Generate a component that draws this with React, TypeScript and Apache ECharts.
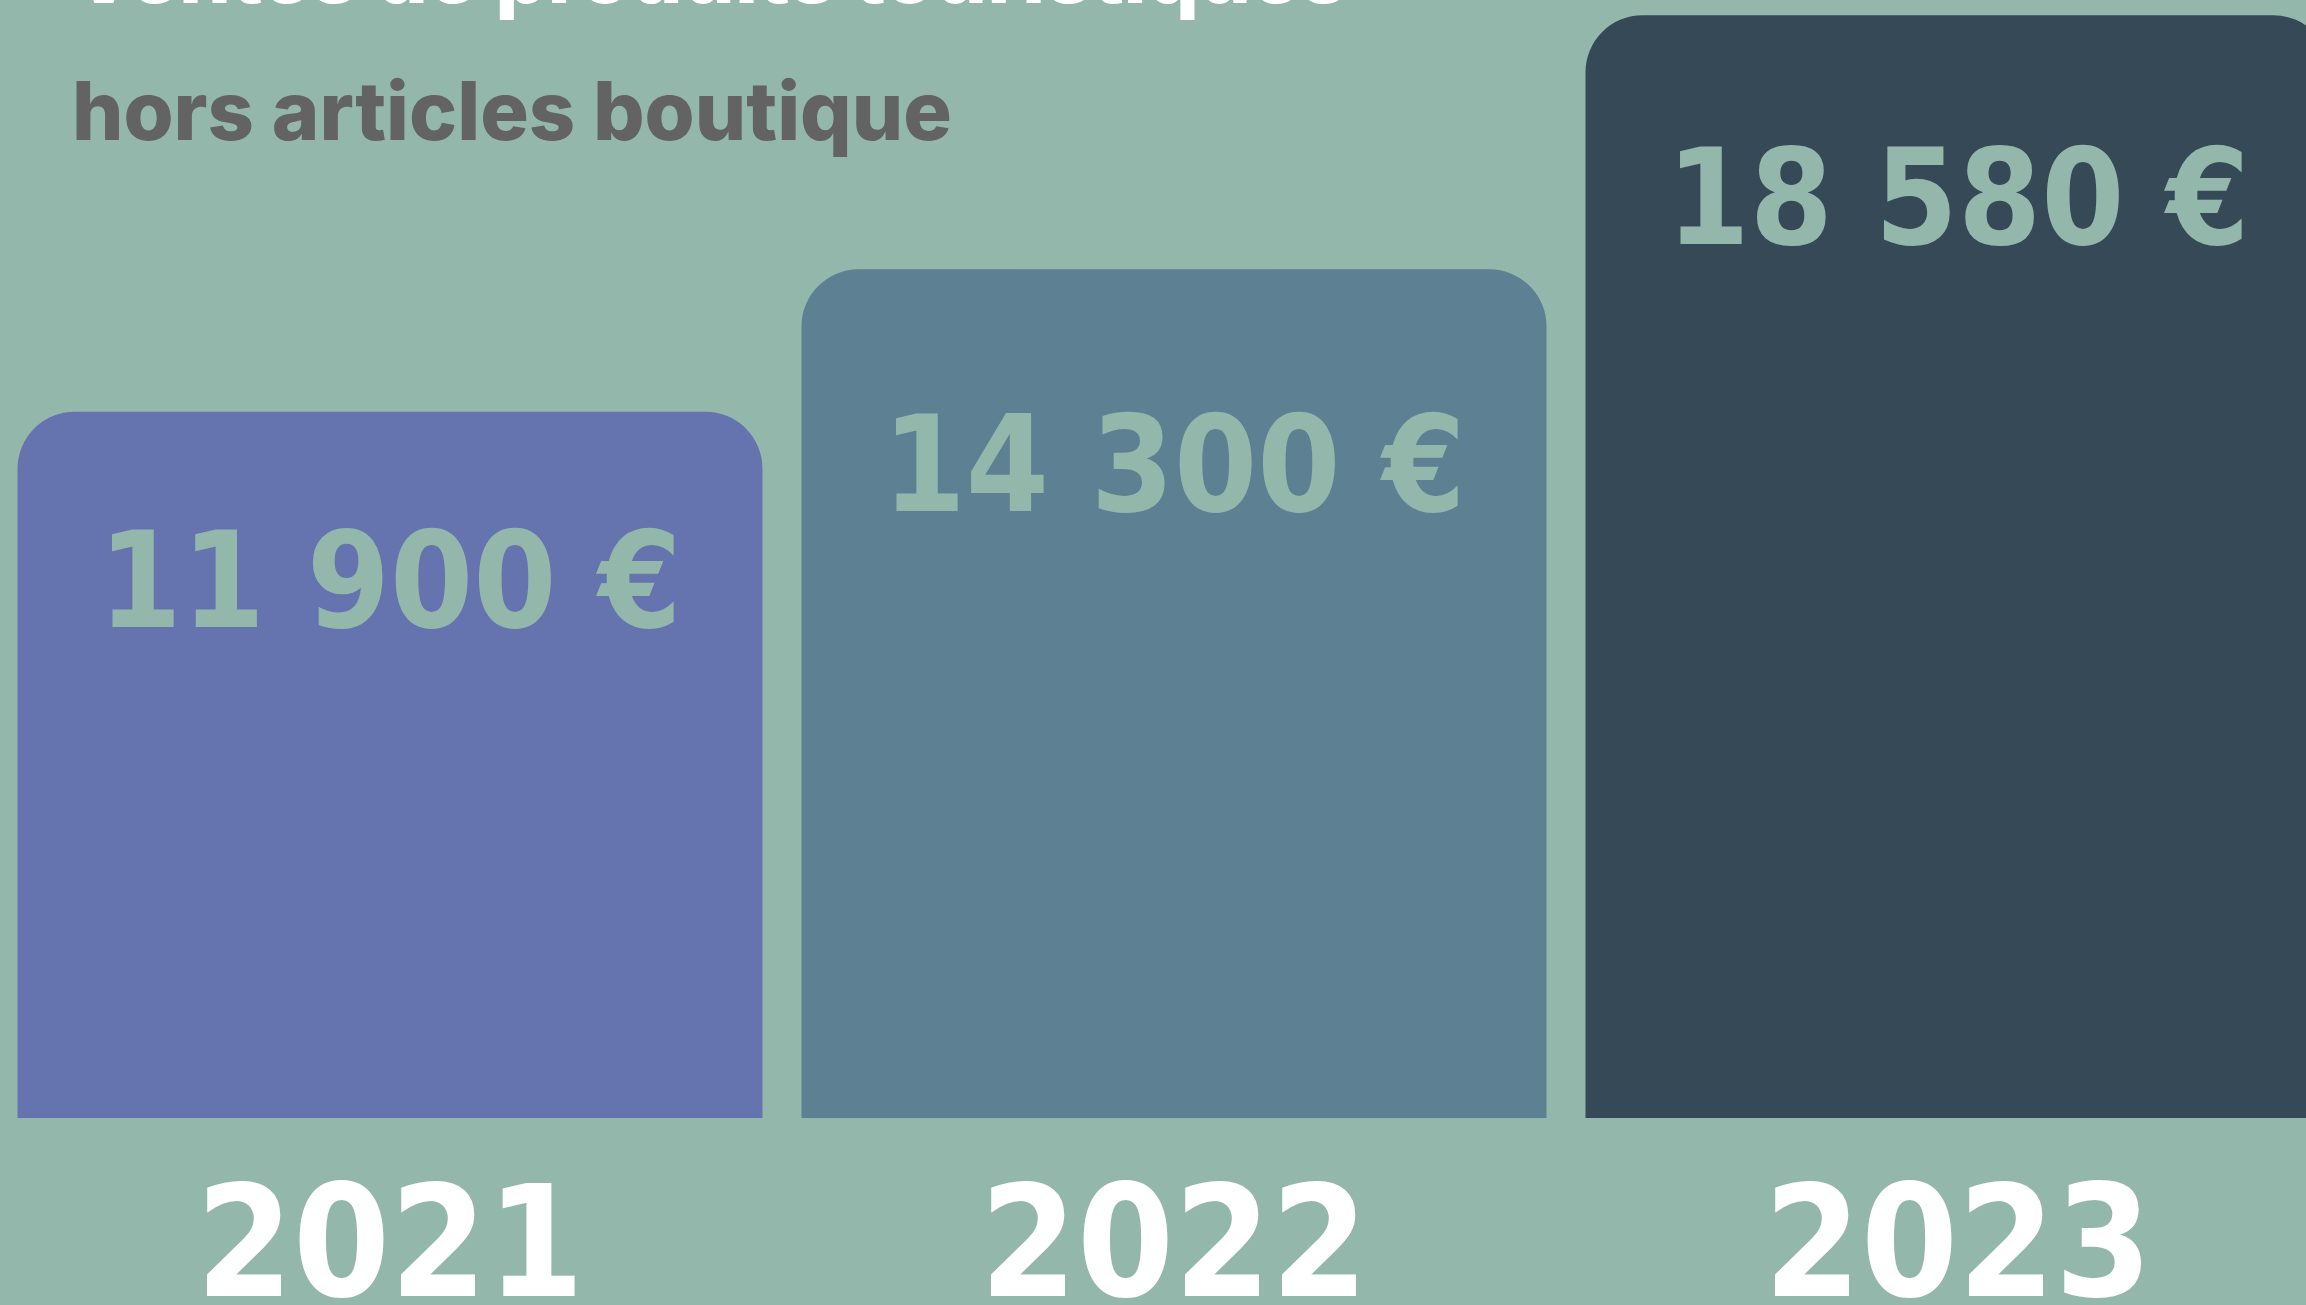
import React, { useEffect, useRef } from "react";
import * as echarts from "echarts";

const years = ["2021", "2022", "2023"];
const sales = [11900, 14300, 18580];
const barColors = ["#6574ae", "#5e8093", "#364957"];
const labelOffsets = [169, 196, 183];
const titleText = "Ventes de produits touristiques";
const subtitleText = "hors articles boutique";

const BG = "#93b8ab";
const FONT = "Inter, 'Noto Sans', sans-serif";
const NUM_FONT = "'DejaVu Sans Condensed', 'DejaVu Sans', sans-serif";

const fmt = (v: number) => {
  const s = String(v);
  return s.replace(/\B(?=(\d{3})+(?!\d))/g, " ") + " €";
};

export default function App() {
  const ref = useRef<HTMLDivElement>(null);
  useEffect(() => {
    document.body.style.margin = "0";
    document.body.style.overflow = "hidden";
    const chart = echarts.init(ref.current!, null, { renderer: "svg" });
    chart.setOption({
      animation: false,
      backgroundColor: BG,
      grid: {
        left: -2,
        right: -44,
        top: -69,
        bottom: 187,
        containLabel: false,
        outerBoundsMode: "none",
      },
      xAxis: {
        type: "category",
        data: years,
        axisLine: { show: false },
        axisTick: { show: false },
        axisLabel: {
          color: "#ffffff",
          fontFamily: NUM_FONT,
          fontWeight: "bold",
          fontSize: 155,
          lineHeight: 100,
          margin: 74,
        },
      },
      yAxis: {
        type: "value",
        min: 0,
        max: 20000,
        show: false,
        splitLine: { show: false },
      },
      series: [
        {
          type: "bar",
          barWidth: 745,
          data: sales.map((v, i) => ({
            value: v,
            itemStyle: { color: barColors[i], borderRadius: [57, 57, 0, 0] },
            label: {
              show: true,
              position: ["50%", labelOffsets[i]],
              align: "center",
              verticalAlign: "middle",
              formatter: () => fmt(v),
              color: BG,
              fontFamily: NUM_FONT,
              fontWeight: "bold",
              fontSize: 133,
            },
          })),
        },
      ],
      graphic: [
        {
          type: "text",
          left: 72,
          top: -68,
          style: {
            text: titleText,
            fill: "#ffffff",
            font: "800 82px Inter, 'Noto Sans', sans-serif",
          },
        },
        {
          type: "text",
          left: 72,
          top: 70,
          style: {
            text: subtitleText,
            fill: "#636363",
            font: "800 81px Inter, 'Noto Sans', sans-serif",
          },
        },
      ],
    });
    return () => chart.dispose();
  }, []);
  return <div ref={ref} style={{ width: 2306, height: 1305 }} />;
}
